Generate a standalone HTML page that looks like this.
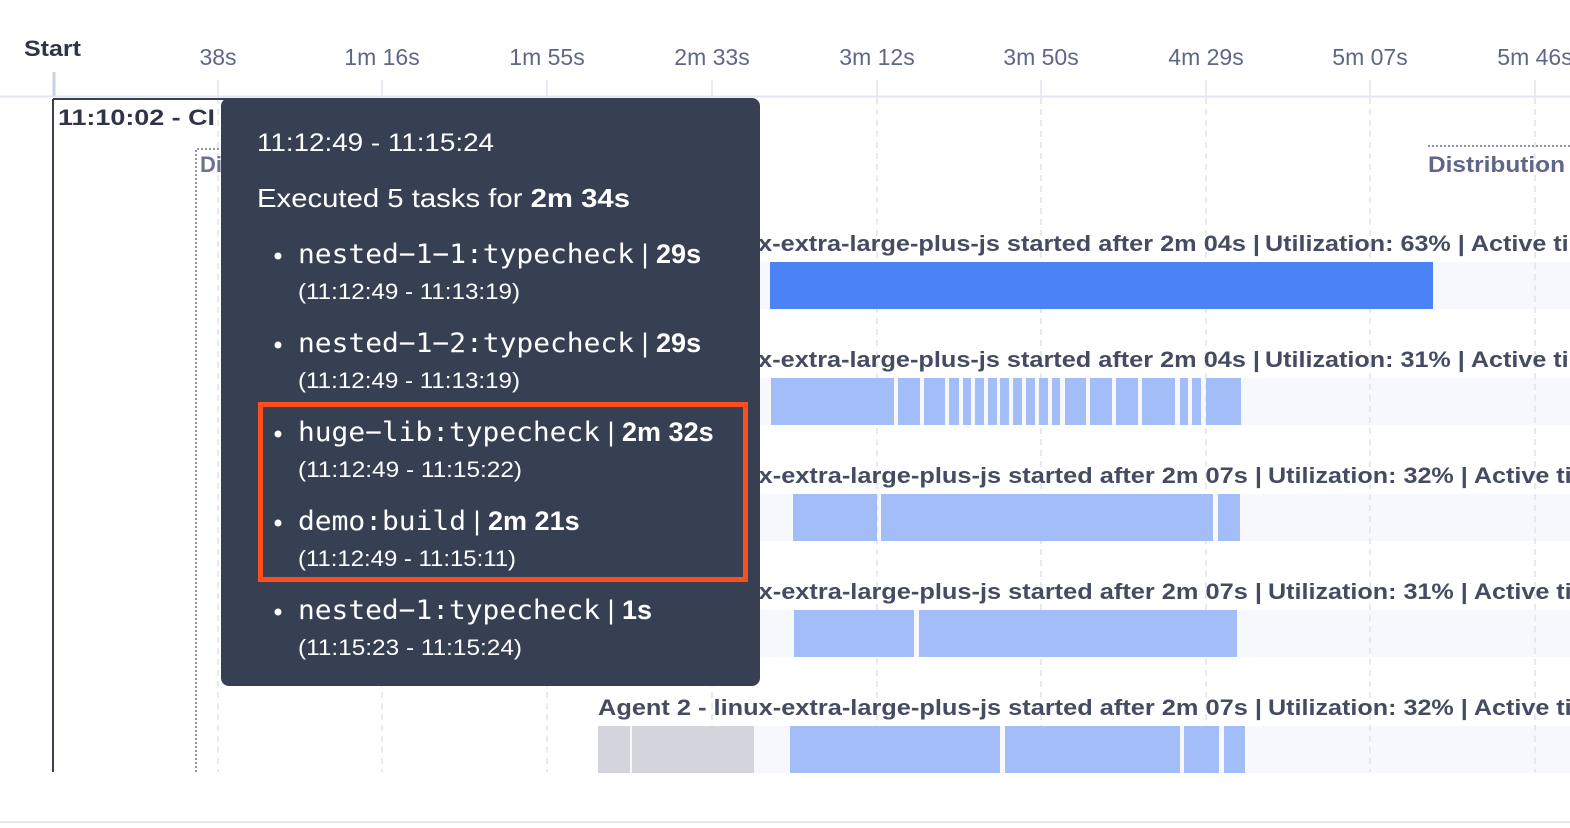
<!DOCTYPE html>
<html><head><style>
html,body{margin:0;padding:0;background:#fff;}
svg{display:block;font-family:"Liberation Sans",sans-serif;}
</style></head><body>
<svg width="1570" height="828" viewBox="0 0 1570 828">
<rect width="1570" height="828" fill="#fff"/>
<!-- header -->
<text x="24" y="56" font-size="22" font-weight="bold" fill="#2f3447" textLength="57" lengthAdjust="spacingAndGlyphs">Start</text>
<line x1="54" y1="72" x2="54" y2="96" stroke="#c9d0e4" stroke-width="3"/>
<line x1="0" y1="96.5" x2="1570" y2="96.5" stroke="#e3e6f0" stroke-width="2"/>
<g font-size="23" fill="#5f6788" text-anchor="middle">
<text x="218" y="65">38s</text><text x="382" y="65">1m 16s</text><text x="547" y="65">1m 55s</text>
<text x="712" y="65">2m 33s</text><text x="877" y="65">3m 12s</text><text x="1041" y="65">3m 50s</text>
<text x="1206" y="65">4m 29s</text><text x="1370" y="65">5m 07s</text><text x="1535" y="65">5m 46s</text>
</g>
<!-- row backgrounds -->
<g fill="#f6f8fe">
<rect x="598" y="262" width="972" height="47"/><rect x="598" y="378" width="972" height="47"/>
<rect x="598" y="494" width="972" height="47"/><rect x="598" y="610" width="972" height="47"/>
<rect x="598" y="726" width="972" height="47"/>
</g>
<!-- gridlines -->
<g stroke="#e1e4ee" stroke-width="1.5">
<line x1="218" y1="80" x2="218" y2="96"/><line x1="382" y1="80" x2="382" y2="96"/><line x1="547" y1="80" x2="547" y2="96"/><line x1="712" y1="80" x2="712" y2="96"/><line x1="877" y1="80" x2="877" y2="96"/><line x1="1041" y1="80" x2="1041" y2="96"/><line x1="1206" y1="80" x2="1206" y2="96"/><line x1="1370" y1="80" x2="1370" y2="96"/><line x1="1535" y1="80" x2="1535" y2="96"/>
</g>
<g stroke="#dfe2ec" stroke-width="1.5" stroke-dasharray="6,5">
<line x1="218" y1="98" x2="218" y2="772"/><line x1="382" y1="98" x2="382" y2="772"/><line x1="547" y1="98" x2="547" y2="772"/><line x1="712" y1="98" x2="712" y2="772"/><line x1="877" y1="98" x2="877" y2="772"/><line x1="1041" y1="98" x2="1041" y2="772"/><line x1="1206" y1="98" x2="1206" y2="772"/><line x1="1370" y1="98" x2="1370" y2="772"/><line x1="1535" y1="98" x2="1535" y2="772"/>
</g>
<!-- CI frame -->
<line x1="53" y1="99" x2="53" y2="772" stroke="#3a3f52" stroke-width="2"/>
<line x1="53" y1="99" x2="230" y2="99" stroke="#3a3f52" stroke-width="2"/>
<text x="58" y="125" font-size="22" font-weight="bold" fill="#2f3447" textLength="157" lengthAdjust="spacingAndGlyphs">11:10:02 - CI</text>
<path d="M196 772 V149 H230" fill="none" stroke="#6b7290" stroke-width="1.5" stroke-dasharray="2,2"/>
<text x="200" y="172" font-size="22" font-weight="bold" fill="#6b7290">Di</text>
<line x1="1428" y1="146" x2="1570" y2="146" stroke="#6b7290" stroke-width="1.5" stroke-dasharray="2,2"/>
<text x="1428" y="172" font-size="22" font-weight="bold" fill="#5f6788" textLength="137" lengthAdjust="spacingAndGlyphs">Distribution</text>
<!-- row labels -->
<g font-size="22" font-weight="bold" fill="#454b61">
<text x="598" y="251" textLength="662" lengthAdjust="spacingAndGlyphs">Agent 1 - linux-extra-large-plus-js started after 2m 04s |</text>
<text x="1265" y="251" textLength="340" lengthAdjust="spacingAndGlyphs">Utilization: 63% | Active time</text>
<text x="598" y="367" textLength="662" lengthAdjust="spacingAndGlyphs">Agent 1 - linux-extra-large-plus-js started after 2m 04s |</text>
<text x="1265" y="367" textLength="340" lengthAdjust="spacingAndGlyphs">Utilization: 31% | Active time</text>
<text x="598" y="483" textLength="664" lengthAdjust="spacingAndGlyphs">Agent 2 - linux-extra-large-plus-js started after 2m 07s |</text>
<text x="1268" y="483" textLength="340" lengthAdjust="spacingAndGlyphs">Utilization: 32% | Active time</text>
<text x="598" y="599" textLength="664" lengthAdjust="spacingAndGlyphs">Agent 2 - linux-extra-large-plus-js started after 2m 07s |</text>
<text x="1268" y="599" textLength="340" lengthAdjust="spacingAndGlyphs">Utilization: 31% | Active time</text>
<text x="598" y="715" textLength="664" lengthAdjust="spacingAndGlyphs">Agent 2 - linux-extra-large-plus-js started after 2m 07s |</text>
<text x="1268" y="715" textLength="340" lengthAdjust="spacingAndGlyphs">Utilization: 32% | Active time</text>
</g>
<!-- bars -->
<rect x="770" y="262" width="663" height="47" fill="#4b82f5"/>
<g fill="#a3bdf8">
<rect x="771" y="378" width="123" height="47"/><rect x="898" y="378" width="22" height="47"/><rect x="924" y="378" width="21" height="47"/><rect x="949" y="378" width="10" height="47"/><rect x="963" y="378" width="8" height="47"/><rect x="975" y="378" width="9" height="47"/><rect x="988" y="378" width="9" height="47"/><rect x="1000" y="378" width="9" height="47"/><rect x="1013" y="378" width="9" height="47"/><rect x="1026" y="378" width="9" height="47"/><rect x="1039" y="378" width="9" height="47"/><rect x="1052" y="378" width="8" height="47"/><rect x="1065" y="378" width="21" height="47"/><rect x="1090" y="378" width="22" height="47"/><rect x="1116" y="378" width="22" height="47"/><rect x="1142" y="378" width="33" height="47"/><rect x="1180" y="378" width="8" height="47"/><rect x="1192" y="378" width="9" height="47"/><rect x="1206" y="378" width="35" height="47"/>
<rect x="793" y="494" width="84" height="47"/><rect x="881" y="494" width="332" height="47"/><rect x="1218" y="494" width="22" height="47"/>
<rect x="794" y="610" width="120" height="47"/><rect x="919" y="610" width="318" height="47"/>
<rect x="790" y="726" width="210" height="47"/><rect x="1005" y="726" width="175" height="47"/><rect x="1184" y="726" width="35" height="47"/><rect x="1224" y="726" width="21" height="47"/>
</g>
<g fill="#d4d4dc"><rect x="598" y="726" width="32" height="47"/><rect x="632" y="726" width="122" height="47"/></g>
<line x1="0" y1="822" x2="1570" y2="822" stroke="#e6e8ef" stroke-width="2"/>
<!-- tooltip -->
<rect x="221" y="98" width="539" height="588" rx="8" fill="#373f53"/>
<rect x="260.5" y="404.5" width="485" height="175" fill="none" stroke="#fc4e1f" stroke-width="5"/>
<g fill="#fff">
<text x="257" y="151" font-size="25" textLength="237" lengthAdjust="spacingAndGlyphs">11:12:49 - 11:15:24</text>
<text x="257" y="207" font-size="26" textLength="373" lengthAdjust="spacingAndGlyphs">Executed 5 tasks for <tspan font-weight="bold">2m 34s</tspan></text>
<g font-size="27">
<circle cx="278" cy="256" r="3.5"/><circle cx="278" cy="345" r="3.5"/><circle cx="278" cy="434" r="3.5"/><circle cx="278" cy="523" r="3.5"/><circle cx="278" cy="612" r="3.5"/>
<text x="298" y="263"><tspan font-family="DejaVu Sans Mono,monospace" font-size="27" textLength="336" lengthAdjust="spacingAndGlyphs">nested−1−1:typecheck</tspan> | <tspan font-weight="bold">29s</tspan></text>
<text x="298" y="352"><tspan font-family="DejaVu Sans Mono,monospace" font-size="27" textLength="336" lengthAdjust="spacingAndGlyphs">nested−1−2:typecheck</tspan> | <tspan font-weight="bold">29s</tspan></text>
<text x="298" y="441"><tspan font-family="DejaVu Sans Mono,monospace" font-size="27" textLength="302" lengthAdjust="spacingAndGlyphs">huge−lib:typecheck</tspan> | <tspan font-weight="bold">2m 32s</tspan></text>
<text x="298" y="530"><tspan font-family="DejaVu Sans Mono,monospace" font-size="27" textLength="168" lengthAdjust="spacingAndGlyphs">demo:build</tspan> | <tspan font-weight="bold">2m 21s</tspan></text>
<text x="298" y="619"><tspan font-family="DejaVu Sans Mono,monospace" font-size="27" textLength="302" lengthAdjust="spacingAndGlyphs">nested−1:typecheck</tspan> | <tspan font-weight="bold">1s</tspan></text>
</g>
<g font-size="22">
<text x="298" y="299" textLength="222" lengthAdjust="spacingAndGlyphs">(11:12:49 - 11:13:19)</text>
<text x="298" y="388" textLength="222" lengthAdjust="spacingAndGlyphs">(11:12:49 - 11:13:19)</text>
<text x="298" y="477" textLength="224" lengthAdjust="spacingAndGlyphs">(11:12:49 - 11:15:22)</text>
<text x="298" y="566" textLength="218" lengthAdjust="spacingAndGlyphs">(11:12:49 - 11:15:11)</text>
<text x="298" y="655" textLength="224" lengthAdjust="spacingAndGlyphs">(11:15:23 - 11:15:24)</text>
</g>
</g>
</svg>
</body></html>
